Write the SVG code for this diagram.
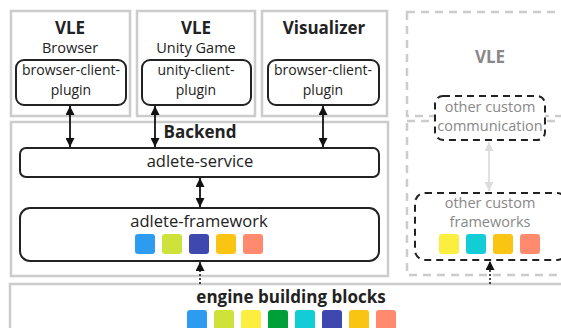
<svg xmlns="http://www.w3.org/2000/svg" width="561" height="328" viewBox="0 0 561 328">
<defs>
<style>
.frame{fill:#fff;stroke:#cccccc;stroke-width:2.5}
.dframe{fill:none;stroke:#cccccc;stroke-width:2.5;stroke-dasharray:8 6}
.comp{fill:#fff;stroke:#222;stroke-width:2}
.dcomp{fill:#fff;stroke:#222;stroke-width:2;stroke-dasharray:7 5}
text{font-family:"Open Sans","Noto Sans",sans-serif;fill:#222;text-anchor:middle}
.h{font-weight:bold;font-size:17px}
.sub{font-size:14.5px}
.pl{font-size:14px}
.big{font-size:16.5px}
.gray{fill:#888}
.arr{stroke:#111;stroke-width:1.8;fill:none}
.garr{stroke:#dddddd;stroke-width:1.8;fill:none}
.dot{stroke:#111;stroke-width:1.5;stroke-dasharray:2 2;fill:none}
</style>
<marker id="ah" viewBox="0 0 10 10" refX="10" refY="5" markerWidth="9" markerHeight="9" markerUnits="userSpaceOnUse" orient="auto-start-reverse"><path d="M0,0 L10,5 L0,10 z" fill="#111"/></marker>
<marker id="gah" viewBox="0 0 10 10" refX="10" refY="5" markerWidth="9" markerHeight="9" markerUnits="userSpaceOnUse" orient="auto-start-reverse"><path d="M0,0 L10,5 L0,10 z" fill="#dddddd"/></marker>
</defs>

<g id="vle-browser">
<rect class="frame" x="11" y="11" width="119" height="105"/>
<text class="h" x="70" y="34">VLE</text>
<text class="sub" x="70" y="53">Browser</text>
<rect class="comp" x="16" y="60" width="110" height="45" rx="8"/>
<text class="pl" x="71" y="75">browser-client-</text>
<text class="pl" x="71" y="95">plugin</text>
</g>

<g id="vle-unity">
<rect class="frame" x="137" y="11" width="118" height="105"/>
<text class="h" x="196" y="34">VLE</text>
<text class="sub" x="196" y="53">Unity Game</text>
<rect class="comp" x="142" y="60" width="109" height="45" rx="8"/>
<text class="pl" x="196" y="75">unity-client-</text>
<text class="pl" x="196" y="95">plugin</text>
</g>

<g id="visualizer">
<rect class="frame" x="262" y="11" width="125" height="105"/>
<text class="h" x="324" y="34">Visualizer</text>
<rect class="comp" x="268" y="60" width="111" height="45" rx="8"/>
<text class="pl" x="323" y="75">browser-client-</text>
<text class="pl" x="323" y="95">plugin</text>
</g>

<g id="vle-other">
<rect class="dframe" x="407" y="12" width="166" height="104"/>
<text class="h gray" x="490" y="63">VLE</text>
</g>

<g id="backend">
<rect class="frame" x="11" y="122" width="377" height="154"/>
<text class="h" x="200" y="138">Backend</text>
</g>

<g id="other-backend">
<rect class="dframe" x="407" y="121" width="166" height="154"/>
</g>

<g id="other-communication">
<rect class="dcomp" x="435" y="96" width="110" height="44" rx="8"/>
<text class="sub gray" x="490" y="112">other custom</text>
<text class="sub gray" x="490" y="131">communication</text>
</g>

<g id="adlete-service">
<rect class="comp" x="20" y="148" width="359" height="29" rx="6"/>
<text class="big" x="200" y="167">adlete-service</text>
</g>

<g id="adlete-framework">
<rect class="comp" x="20" y="208" width="359" height="53" rx="10"/>
<text class="big" x="199" y="227">adlete-framework</text>
<rect x="135" y="234" width="20" height="20" rx="3" fill="#2d9bf0"/>
<rect x="162" y="234" width="20" height="20" rx="3" fill="#cde23a"/>
<rect x="189" y="234" width="20" height="20" rx="3" fill="#3f48ae"/>
<rect x="216" y="234" width="20" height="20" rx="3" fill="#f9c512"/>
<rect x="243" y="234" width="20" height="20" rx="3" fill="#ff8a6e"/>
</g>

<g id="other-frameworks">
<rect class="dcomp" x="415" y="193" width="152" height="67" rx="10"/>
<text class="sub gray" x="490" y="208">other custom</text>
<text class="sub gray" x="490" y="227">frameworks</text>
<rect x="439" y="234" width="20" height="20" rx="3" fill="#fbee3f"/>
<rect x="466" y="234" width="20" height="20" rx="3" fill="#12ccd6"/>
<rect x="493" y="234" width="20" height="20" rx="3" fill="#f9c512"/>
<rect x="520" y="234" width="20" height="20" rx="3" fill="#ff8a6e"/>
</g>

<g id="engine">
<rect class="frame" x="10" y="284" width="562" height="60"/>
<text class="h" x="291" y="303">engine building blocks</text>
<rect x="187" y="310" width="20" height="20" rx="3" fill="#2d9bf0"/>
<rect x="214" y="310" width="20" height="20" rx="3" fill="#cde23a"/>
<rect x="241" y="310" width="20" height="20" rx="3" fill="#fbee3f"/>
<rect x="268" y="310" width="20" height="20" rx="3" fill="#009f3a"/>
<rect x="295" y="310" width="20" height="20" rx="3" fill="#12ccd6"/>
<rect x="322" y="310" width="20" height="20" rx="3" fill="#3f48ae"/>
<rect x="349" y="310" width="20" height="20" rx="3" fill="#f9c512"/>
<rect x="376" y="310" width="20" height="20" rx="3" fill="#ff8a6e"/>
</g>

<g id="connectors">
<line class="arr" x1="70" y1="106" x2="70" y2="147" marker-start="url(#ah)" marker-end="url(#ah)"/>
<line class="arr" x1="155" y1="106" x2="155" y2="147" marker-start="url(#ah)" marker-end="url(#ah)"/>
<line class="arr" x1="323" y1="106" x2="323" y2="147" marker-start="url(#ah)" marker-end="url(#ah)"/>
<line class="arr" x1="200" y1="178" x2="200" y2="207" marker-start="url(#ah)" marker-end="url(#ah)"/>
<line class="garr" x1="489" y1="142" x2="489" y2="191" marker-start="url(#gah)" marker-end="url(#gah)"/>
<line class="dot" x1="200" y1="284" x2="200" y2="262" marker-end="url(#ah)"/>
<line class="dot" x1="490" y1="284" x2="490" y2="261" marker-end="url(#ah)"/>
</g>
</svg>
